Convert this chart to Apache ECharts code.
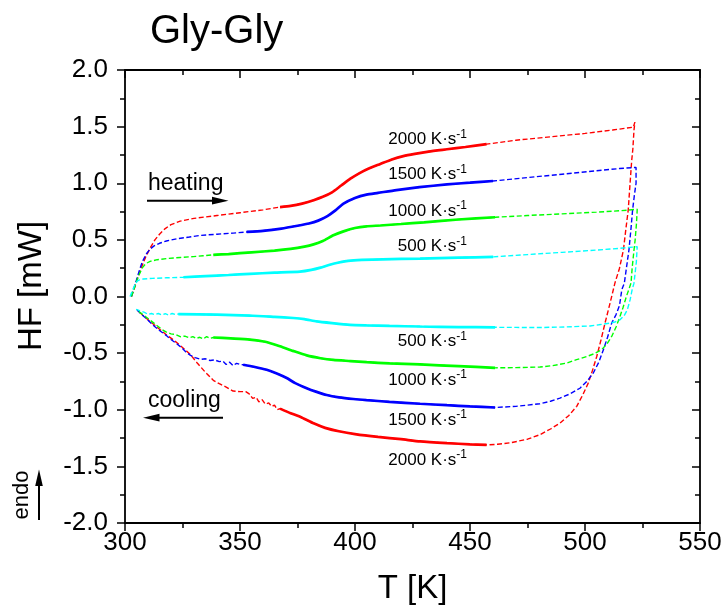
<!DOCTYPE html>
<html>
<head>
<meta charset="utf-8">
<title>Gly-Gly</title>
<script src="https://cdn.jsdelivr.net/npm/echarts@6/dist/echarts.min.js"></script>
<style>
  html, body { margin: 0; padding: 0; background: #fff; }
  #chart { width: 726px; height: 610px; }
</style>
</head>
<body>
<div id="chart"></div>
<script>
// Axis ticks
const xTicks = [300, 350, 400, 450, 500, 550];
const yTicks = [-2.0, -1.5, -1.0, -0.5, 0.0, 0.5, 1.0, 1.5, 2.0];

// Scanning rates (K/s) and their colours
const rates = ['2000', '1500', '1000', '500'];
const rateColors = ['#ff0000', '#0000ff', '#00ff00', '#00ffff'];

// ---- 2000 K/s : [T (K), HF (mW)] ----
const lead2000 = [[302.8,0.0],[304.2,0.08],[305.6,0.17],[307.2,0.26],[309,0.35],[311,0.43],[313,0.5],[315,0.55],[317.5,0.6],[320,0.635],[324,0.665],[330,0.69],[340,0.715],[350,0.74],[360,0.765],[367.4,0.79]];
const heat2000 = [[367.4,0.79],[372,0.8],[377,0.82],[382,0.85],[386,0.88],[390,0.92],[394,0.98],[398,1.04],[402,1.09],[406,1.13],[411,1.17],[416,1.21],[421,1.24],[426,1.26],[432,1.28],[440,1.3],[448,1.32],[457.2,1.345]];
const turn2000 = [[457.2,1.345],[470,1.38],[485,1.41],[500,1.44],[512,1.47],[521,1.495],[521.7,1.54],[521.3,1.47],[520.8,1.3],[520.3,1.2],[519.6,1.0],[518.8,0.765],[517.8,0.6],[516.7,0.41],[515,0.25],[513,0.118],[511,-0.05],[508.7,-0.235],[507,-0.38],[505.1,-0.53],[503.3,-0.65],[501.4,-0.765],[499,-0.87],[496.4,-0.97],[493,-1.05],[489.1,-1.118],[485,-1.17],[480.4,-1.22],[475,-1.26],[468,-1.29],[462,-1.305],[457.2,-1.31]];
const cool2000 = [[457.2,-1.31],[450,-1.305],[440,-1.295],[428.3,-1.28],[420,-1.26],[410,-1.24],[400,-1.215],[393,-1.19],[387,-1.16],[382,-1.12],[377,-1.07],[372,-1.03],[367.4,-0.99]];
const tail2000 = [[367.4,-0.99],[366.2,-1.0],[365,-0.96],[363.8,-0.97],[362.5,-0.94],[361,-0.95],[359.6,-0.91],[358.2,-0.93],[357,-0.89],[355.5,-0.9],[354,-0.86],[352.5,-0.84],[350,-0.84],[347,-0.835],[344,-0.8],[341,-0.77],[338.4,-0.74],[335,-0.67],[331.5,-0.59],[328.3,-0.51],[325,-0.45],[321.5,-0.39],[318.1,-0.34],[314.5,-0.28],[310.9,-0.22],[308,-0.17],[305.3,-0.12]];

// ---- 1500 K/s ----
const lead1500 = [[302.8,0.0],[304,0.08],[305.2,0.16],[306.4,0.24],[307.6,0.31],[309.4,0.38],[311,0.42],[312.5,0.445],[315,0.47],[318,0.49],[322.5,0.51],[328,0.525],[333,0.54],[340,0.55],[347,0.56],[352.9,0.57]];
const heat1500 = [[352.9,0.57],[360,0.58],[368,0.6],[375,0.625],[380,0.645],[384,0.67],[388,0.71],[391.5,0.76],[395,0.82],[400,0.87],[405,0.9],[410,0.915],[418,0.94],[428,0.965],[440,0.99],[450,1.005],[460,1.02]];
const turn1500 = [[460,1.02],[475,1.05],[490,1.08],[505,1.11],[515,1.13],[522.2,1.14],[522.2,1.0],[521.5,0.9],[520.7,0.765],[520,0.6],[519.1,0.41],[518,0.25],[517.1,0.118],[516,0.06],[515,-0.08],[513.5,-0.16],[511.6,-0.235],[509.8,-0.36],[508,-0.47],[506,-0.58],[503.6,-0.676],[500.8,-0.75],[497.8,-0.81],[493.5,-0.86],[489.1,-0.897],[485,-0.925],[480.4,-0.947],[470,-0.97],[460.9,-0.98]];
const cool1500 = [[460.9,-0.98],[450,-0.97],[440,-0.96],[428.3,-0.947],[415,-0.93],[405,-0.915],[399.3,-0.905],[393,-0.89],[387.7,-0.87],[383,-0.84],[379,-0.81],[374,-0.765],[370.3,-0.72],[366,-0.68],[361.6,-0.647],[356,-0.62],[351.4,-0.603]];
const tail1500 = [[351.4,-0.603],[350,-0.6],[348.5,-0.59],[347,-0.61],[345.5,-0.58],[344,-0.6],[342.5,-0.57],[341,-0.575],[339,-0.56],[337,-0.565],[335,-0.55],[333,-0.555],[330.5,-0.54],[328.5,-0.52],[326.5,-0.49],[324.5,-0.45],[322,-0.41],[320,-0.38],[318,-0.345],[315,-0.3],[312,-0.25],[309,-0.19],[307,-0.155],[305.3,-0.12]];

// ---- 1000 K/s ----
const lead1000 = [[302.8,0.0],[304,0.07],[305.1,0.14],[306.3,0.2],[307.6,0.255],[309,0.29],[310.9,0.31],[314,0.325],[318.1,0.335],[324,0.345],[329.7,0.352],[334,0.36],[338.4,0.368]];
const heat1000 = [[338.4,0.368],[345,0.375],[355,0.39],[365,0.405],[372,0.42],[378,0.44],[382,0.46],[386,0.49],[390.6,0.54],[395,0.575],[400,0.605],[405,0.62],[411,0.627],[420,0.64],[430,0.655],[445,0.68],[460.9,0.7]];
const turn1000 = [[460.9,0.7],[475,0.715],[490,0.73],[505,0.745],[515,0.757],[522.7,0.77],[522.4,0.65],[521.8,0.5],[521.3,0.41],[520.5,0.25],[520,0.118],[518,0.0],[516.5,-0.1],[515.2,-0.176],[513.5,-0.27],[511.6,-0.353],[509.5,-0.42],[507.2,-0.47],[504,-0.505],[500.7,-0.53],[496,-0.56],[492,-0.588],[486,-0.61],[480.4,-0.623],[470,-0.628],[460.9,-0.63]];
const cool1000 = [[460.9,-0.63],[445,-0.615],[428.3,-0.6],[415,-0.59],[405.1,-0.58],[398,-0.57],[390.6,-0.56],[385,-0.545],[379,-0.52],[373,-0.48],[367.4,-0.44],[361,-0.4],[354.3,-0.38],[346,-0.37],[338.4,-0.362]];
const tail1000 = [[338.4,-0.362],[337,-0.37],[335.5,-0.355],[334,-0.375],[332.5,-0.36],[331,-0.37],[329.5,-0.355],[328,-0.365],[326,-0.35],[324,-0.355],[322,-0.335],[320,-0.33],[318,-0.315],[316,-0.29],[313.5,-0.25],[311,-0.21],[308.5,-0.17],[306.5,-0.14],[305.3,-0.12]];

// ---- 500 K/s ----
const lead500 = [[302.2,0.0],[303.2,0.05],[304.2,0.1],[305.3,0.135],[306.5,0.15],[308,0.155],[312,0.16],[318,0.165],[325.4,0.17]];
const heat500 = [[325.4,0.17],[335,0.18],[345,0.19],[354.3,0.2],[365,0.21],[376.1,0.22],[381,0.235],[385,0.255],[389,0.28],[393,0.3],[397,0.315],[403,0.323],[412,0.328],[428.3,0.335],[445,0.343],[460.1,0.35]];
const turn500 = [[460.1,0.35],[475,0.37],[490,0.39],[505,0.41],[515,0.425],[522.7,0.44],[522.3,0.3],[521.3,0.118],[520.5,0.06],[519.6,-0.03],[518.4,-0.118],[517,-0.17],[515.2,-0.206],[513,-0.225],[510.9,-0.235],[506,-0.25],[502.2,-0.26],[495,-0.266],[489.1,-0.27],[480.4,-0.274],[470,-0.273],[460.9,-0.272]];
const cool500 = [[460.9,-0.272],[445,-0.27],[428.3,-0.265],[415,-0.26],[405,-0.255],[397.8,-0.25],[390,-0.235],[383.3,-0.22],[378,-0.2],[373.2,-0.19],[365,-0.18],[354.3,-0.168],[340,-0.16],[323.2,-0.155]];
const tail500 = [[323.2,-0.155],[322,-0.16],[320.5,-0.15],[319,-0.165],[317.5,-0.152],[316,-0.162],[314.5,-0.15],[313,-0.16],[311.5,-0.15],[310,-0.158],[308.5,-0.14],[307,-0.13],[305.5,-0.118],[304.8,-0.115]];

const runs = {
  '2000': { lead: lead2000, heat: heat2000, turn: turn2000, cool: cool2000, tail: tail2000 },
  '1500': { lead: lead1500, heat: heat1500, turn: turn1500, cool: cool1500, tail: tail1500 },
  '1000': { lead: lead1000, heat: heat1000, turn: turn1000, cool: cool1000, tail: tail1000 },
  '500':  { lead: lead500,  heat: heat500,  turn: turn500,  cool: cool500,  tail: tail500 }
};

const FONT = '"Liberation Sans", Arial, Helvetica, sans-serif';

// full heating/cooling loop in thin dashes, measured windows as thick solid lines
const series = [];
rates.forEach((r, i) => {
  const d = runs[r];
  series.push({
    name: r + ' K/s loop', type: 'line', symbol: 'none', smooth: false,
    data: d.lead.concat(d.heat, d.turn, d.cool, d.tail),
    lineStyle: { color: rateColors[i], width: 1.4, type: [5, 2.5] },
    z: 2
  });
});
rates.forEach((r, i) => {
  const d = runs[r];
  series.push({
    name: r + ' K/s heating', type: 'line', symbol: 'none', smooth: 0.2,
    data: d.heat, lineStyle: { color: rateColors[i], width: 2.7 }, z: 3
  });
  series.push({
    name: r + ' K/s cooling', type: 'line', symbol: 'none', smooth: 0.2,
    data: d.cool, lineStyle: { color: rateColors[i], width: 2.7 }, z: 3
  });
});

const axisLineStyle = { color: '#000', width: 1.8 };
const tickStyle = { color: '#000', width: 1.5 };

function xAxisDef(pos) {
  const bottom = pos === 'bottom';
  return {
    type: 'value', position: pos,
    min: xTicks[0], max: xTicks[xTicks.length - 1], interval: xTicks[1] - xTicks[0],
    axisLine: { show: true, onZero: false, lineStyle: axisLineStyle },
    axisTick: { show: true, inside: !bottom, length: 8, lineStyle: tickStyle },
    minorTick: { show: true, splitNumber: 2, length: 5, lineStyle: tickStyle },
    axisLabel: { show: bottom, fontSize: 26, fontFamily: FONT, color: '#000', margin: 7 },
    splitLine: { show: false }, minorSplitLine: { show: false }
  };
}
function yAxisDef(pos) {
  const left = pos === 'left';
  return {
    type: 'value', position: pos,
    min: yTicks[0], max: yTicks[yTicks.length - 1], interval: yTicks[1] - yTicks[0],
    axisLine: { show: true, onZero: false, lineStyle: axisLineStyle },
    axisTick: { show: true, inside: !left, length: 8, lineStyle: tickStyle },
    minorTick: { show: true, splitNumber: 2, length: 5, lineStyle: tickStyle },
    axisLabel: { show: left, fontSize: 26, fontFamily: FONT, color: '#000', margin: 17,
                 formatter: v => v.toFixed(1) },
    splitLine: { show: false }, minorSplitLine: { show: false }
  };
}

// rate annotations next to the curves
const heatLabelY = [139.6, 174.5, 211, 246.5];
const coolLabelY = [460, 420, 380, 341.5];
function rateLabel(text, y) {
  return {
    type: 'text', x: 467, y: y, silent: true,
    style: {
      text: '{n|' + text + ' K·s}{s|-1}',
      align: 'right', verticalAlign: 'middle',
      textAlign: 'right', textVerticalAlign: 'middle',
      rich: {
        n: { fontSize: 17, fontFamily: FONT, fill: '#000', color: '#000', lineHeight: 22 },
        s: { fontSize: 12, fontFamily: FONT, fill: '#000', color: '#000', lineHeight: 10, verticalAlign: 'top' }
      }
    }
  };
}

const graphics = [
  { type: 'text', x: 150, y: 32, style: { text: 'Gly-Gly', font: '40px ' + FONT, fill: '#000',
      align: 'left', verticalAlign: 'middle', textAlign: 'left', textVerticalAlign: 'middle' } },
  { type: 'text', x: 31.7, y: 286, rotation: Math.PI / 2, style: { text: 'HF [mW]', font: '33px ' + FONT, fill: '#000',
      align: 'center', verticalAlign: 'middle', textAlign: 'center', textVerticalAlign: 'middle' } },
  { type: 'text', x: 412.5, y: 589, style: { text: 'T [K]', font: '33px ' + FONT, fill: '#000',
      align: 'center', verticalAlign: 'middle', textAlign: 'center', textVerticalAlign: 'middle' } },
  { type: 'text', x: 148, y: 183.7, style: { text: 'heating', font: '23px ' + FONT, fill: '#000',
      align: 'left', verticalAlign: 'middle', textAlign: 'left', textVerticalAlign: 'middle' } },
  { type: 'line', shape: { x1: 147, y1: 200.7, x2: 214, y2: 200.7 }, style: { stroke: '#000', lineWidth: 2 } },
  { type: 'polygon', shape: { points: [[228.5, 200.7], [212, 196.8], [212, 204.6]] }, style: { fill: '#000' } },
  { type: 'text', x: 148, y: 400.3, style: { text: 'cooling', font: '23px ' + FONT, fill: '#000',
      align: 'left', verticalAlign: 'middle', textAlign: 'left', textVerticalAlign: 'middle' } },
  { type: 'line', shape: { x1: 158, y1: 417.7, x2: 223, y2: 417.7 }, style: { stroke: '#000', lineWidth: 2 } },
  { type: 'polygon', shape: { points: [[143, 417.7], [159.5, 413.8], [159.5, 421.6]] }, style: { fill: '#000' } },
  { type: 'text', x: 21.5, y: 495, rotation: Math.PI / 2, style: { text: 'endo', font: '22px ' + FONT, fill: '#000',
      align: 'center', verticalAlign: 'middle', textAlign: 'center', textVerticalAlign: 'middle' } },
  { type: 'line', shape: { x1: 39, y1: 520, x2: 39, y2: 484 }, style: { stroke: '#000', lineWidth: 2 } },
  { type: 'polygon', shape: { points: [[39, 469.5], [35.2, 486], [42.8, 486]] }, style: { fill: '#000' } }
];
rates.forEach((r, i) => {
  graphics.push(rateLabel(r, heatLabelY[i]));
  graphics.push(rateLabel(r, coolLabelY[i]));
});

const chart = echarts.init(document.getElementById('chart'), null, { renderer: 'canvas' });
chart.setOption({
  animation: false,
  backgroundColor: '#fff',
  grid: { left: 125, right: 26, top: 70, bottom: 87, containLabel: false },
  xAxis: [xAxisDef('bottom'), xAxisDef('top')],
  yAxis: [yAxisDef('left'), yAxisDef('right')],
  series: series,
  graphic: graphics
});
</script>
</body>
</html>
